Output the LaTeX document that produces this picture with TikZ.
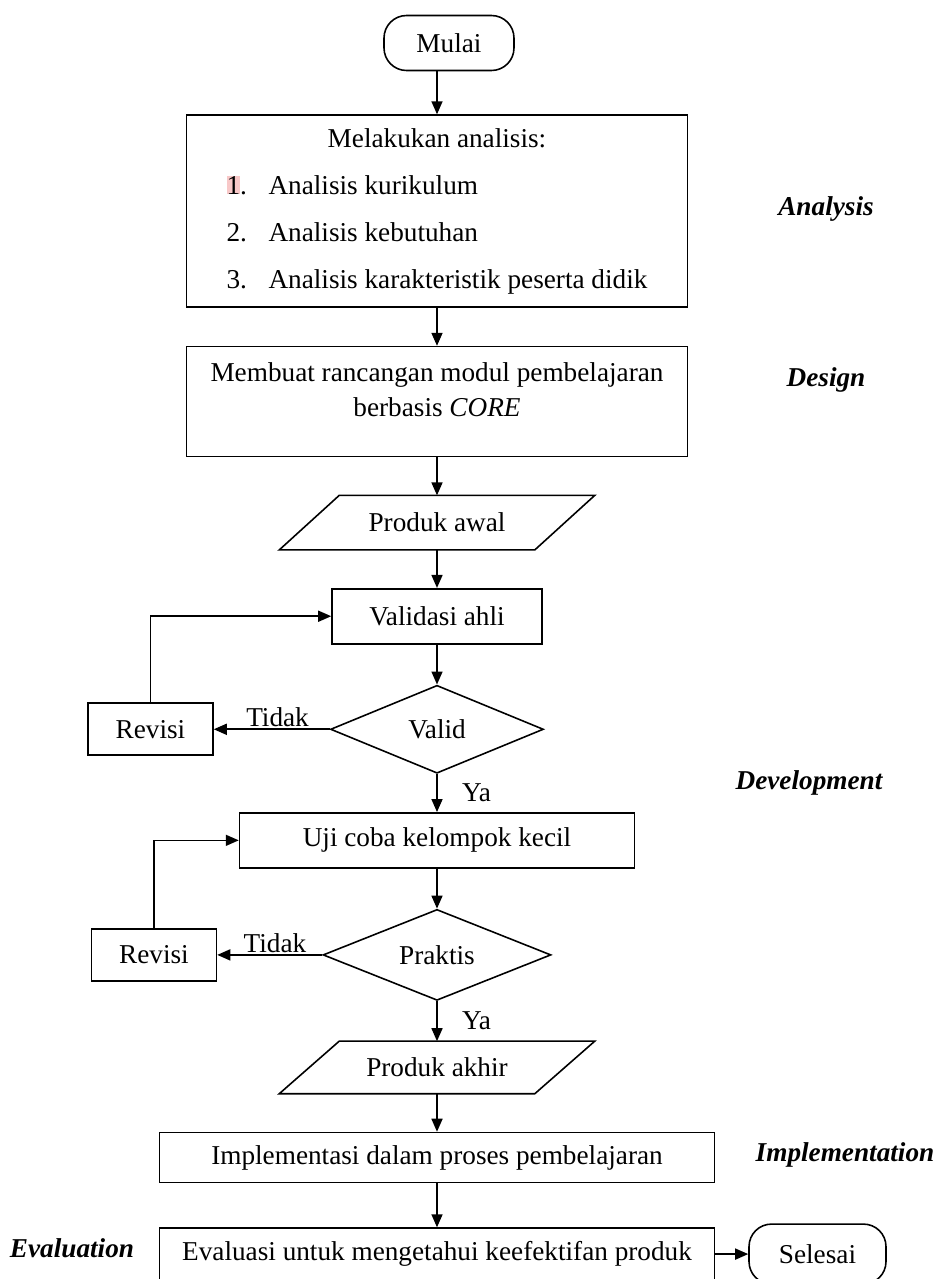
\documentclass[tikz,border=0pt]{standalone}
\usepackage{fontspec}
\setmainfont{Liberation Serif}
\usepackage{xcolor}
\usetikzlibrary{shapes.geometric, arrows.meta, positioning, calc}
\definecolor{hlpink}{RGB}{248,200,200}

\begin{document}
\begin{tikzpicture}[
  x=0.02cm, y=-0.02cm,
  font=\fontsize{15.5pt}{19.9pt}\selectfont,
  line width=0.9pt,
  proc/.style={draw,rectangle,align=center,inner sep=2pt},
  term/.style={draw,rounded corners=0.45cm,minimum width=2.6cm,minimum height=1.1cm},
  io/.style={rectangle,inner sep=1pt,minimum width=5.08cm,minimum height=1.06cm},
  dec/.style={draw,diamond,shape aspect=2.4,inner sep=0pt},
  arr/.style={-{Triangle[length=0.26cm,width=0.22cm]}},
  lbl/.style={inner sep=1pt},
  phase/.style={font=\fontsize{15.5pt}{19pt}\selectfont\bfseries\itshape}
]
  \path[use as bounding box,fill=white] (0,0) rectangle (937,1279);

  \node[term] (mulai) at (449,43) {Mulai};
  \node[proc,below=0.86cm of mulai,xshift=-0.24cm,minimum width=10.02cm,minimum height=3.84cm,
        font=\fontsize{15.5pt}{26.7pt}\selectfont] (ana)
    {\rule{0pt}{15.5pt}Melakukan analisis:\\
     \begin{tabular}[t]{@{}p{0.84cm}@{}l@{}}
       {\setlength{\fboxsep}{0pt}\colorbox{hlpink}{1}}. & Analisis kurikulum\\
       2. & Analisis kebutuhan\\
       3. & Analisis karakteristik peserta didik
     \end{tabular}};
  \node[proc,below=0.76cm of ana,minimum width=10.02cm,minimum height=2.2cm] (design)
    {Membuat rancangan modul pembelajaran\\berbasis \textit{CORE}\rule[-14pt]{0pt}{14pt}};
  \node[io,below=0.76cm of design] (prodawal) {Produk awal};
  \node[proc,below=0.76cm of prodawal,minimum width=4.2cm,minimum height=1.1cm] (valahli) {Validasi ahli};
  \node[dec,below=0.8cm of valahli,minimum width=4.26cm,minimum height=1.76cm] (valid) {Valid};
  \node[proc,left=2.32cm of valid,minimum width=2.5cm,minimum height=1.04cm] (revA) {Revisi};
  \node[proc,below=0.76cm of valid,minimum width=7.9cm,minimum height=1.1cm] (uji) {Uji coba kelompok kecil};
  \node[dec,below=0.8cm of uji,minimum width=4.56cm,minimum height=1.82cm] (praktis) {Praktis};
  \node[proc,left=2.1cm of praktis,minimum width=2.5cm,minimum height=1.04cm] (revB) {Revisi};
  \node[io,below=0.8cm of praktis,minimum height=1.02cm] (prodakhir) {Produk akhir};
  \node[proc,below=0.76cm of prodakhir,minimum width=11.1cm,minimum height=1.0cm] (impl)
    {Implementasi dalam proses pembelajaran};
  \node[proc,below=0.88cm of impl,minimum width=11.1cm,minimum height=1.04cm] (eval)
    {Evaluasi untuk mengetahui keefektifan produk};
  \node[term,right=0.66cm of eval,minimum width=2.74cm,minimum height=1.2cm] (selesai) {Selesai};

  % slanted outlines of the two data boxes
  \draw ([xshift=0.6cm]prodawal.north west)--([xshift=0.6cm]prodawal.north east)
    --([xshift=-0.6cm]prodawal.south east)--([xshift=-0.6cm]prodawal.south west)--cycle;
  \draw ([xshift=0.6cm]prodakhir.north west)--([xshift=0.6cm]prodakhir.north east)
    --([xshift=-0.6cm]prodakhir.south east)--([xshift=-0.6cm]prodakhir.south west)--cycle;

  \node[phase] (lana) at (826,209) {Analysis};
  \node[phase] (ldes) at (826,380) {Design};
  \node[phase] (ldev) at (809,783) {Development};
  \node[phase] (limp) at (845,1155) {Implementation};
  \node[phase] (leva) at (72,1248) {Evaluation};

  \draw[arr] (ana.north |- mulai.south)--(ana.north);
  \draw[arr] (ana)--(design);
  \draw[arr] (design)--(prodawal);
  \draw[arr] (prodawal)--(valahli);
  \draw[arr] (valahli)--(valid);
  \draw[arr] (valid)--node[lbl,above,pos=0.45]{Tidak}(revA);
  \draw[arr] (revA.north)|-(valahli.west);
  \draw[arr] (valid)--node[lbl,right,xshift=0.45cm]{Ya}(uji);
  \draw[arr] (uji)--(praktis);
  \draw[arr] (praktis)--node[lbl,above,pos=0.45]{Tidak}(revB);
  \draw[arr] (revB.north)|-(uji.west);
  \draw[arr] (praktis)--node[lbl,right,xshift=0.45cm]{Ya}(prodakhir);
  \draw[arr] (prodakhir)--(impl);
  \draw[arr] (impl)--(eval);
  \draw[arr] (eval)--(selesai);
\end{tikzpicture}
\end{document}
